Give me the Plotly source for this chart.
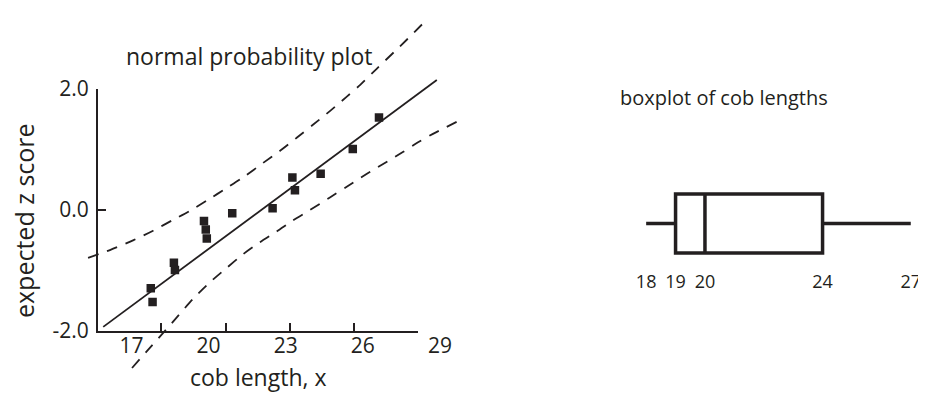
import plotly.graph_objects as go

# ---------------- data ----------------
cob_length = [17.75, 17.82, 18.65, 18.69, 19.82, 19.89, 19.93, 20.92,
              22.49, 23.26, 23.36, 24.36, 25.61, 26.63]
z_score = [-1.30, -1.53, -0.88, -1.00, -0.19, -0.33, -0.48, -0.06,
           0.02, 0.53, 0.32, 0.59, 1.00, 1.52]

fit_x = [15.90, 28.88]
fit_z = [-1.94, 2.14]

upper_x = [15.31, 16.16, 17.06, 17.84, 18.58, 19.28, 19.94, 20.72, 21.34, 22.12,
           22.78, 23.44, 24.06, 24.73, 25.39, 25.90, 26.55, 27.72, 28.54]
upper_z = [-0.80, -0.67, -0.51, -0.35, -0.18, -0.02, 0.15, 0.36, 0.53, 0.77,
           0.97, 1.19, 1.40, 1.63, 1.87, 2.06, 2.33, 2.81, 3.16]

lower_x = [17.02, 17.60, 18.19, 18.77, 19.39, 20.06, 20.72, 21.34, 22.00, 22.66,
           23.28, 23.94, 24.72, 25.39, 26.16, 26.94, 27.56, 28.15, 28.73, 29.90]
lower_z = [-2.62, -2.34, -2.06, -1.78, -1.48, -1.20, -0.96, -0.74, -0.54, -0.36,
           -0.18, -0.01, 0.20, 0.38, 0.59, 0.79, 0.95, 1.11, 1.25, 1.50]

x_tick_vals = [17, 20, 23, 26, 29]
x_tick_text = ["17", "20", "23", "26", "29"]
y_tick_vals = [-2, 0, 2]
y_tick_text = ["-2.0", "0.0", "2.0"]

box_stats = [18, 19, 20, 24, 27]   # min, Q1, median, Q3, max
box_tick_text = ["18", "19", "20", "24", "27"]

# ---------------- layout geometry (page pixels) ----------------
PAGE_W, PAGE_H = 926, 393
OFF = 8                       # default body margin of the html page
W, H = PAGE_W - OFF, PAGE_H - OFF
PX17, PXU = 131.5, 25.7      # pixel of x=17, pixels per unit
PY0, PYU = 209.5, 60.5       # pixel of z=0, pixels per unit
TICK_MARK_PX = [161, 226, 290, 354, 418]
BX_P, BX_V, BX_U = 752, 21.6, 29.4


def x_of(p):
    return 17 + (p - PX17) / PXU


def z_of(p):
    return (PY0 - p) / PYU


def bx_of(p):
    return BX_V + (p - BX_P) / BX_U


def fx(p):
    return (p - OFF) / W


def fy(p):
    return 1 - (p - OFF) / H


INK = "#231f20"
FONT = "Open Sans"

fig = go.Figure()

dash_line = dict(color=INK, width=1.8, dash="11px,9px", shape="spline",
                 smoothing=0.8)
fig.add_trace(go.Scatter(x=upper_x, y=upper_z, mode="lines", line=dash_line,
                         xaxis="x2", yaxis="y2", hoverinfo="skip"))
fig.add_trace(go.Scatter(x=lower_x, y=lower_z, mode="lines", line=dash_line,
                         xaxis="x2", yaxis="y2", hoverinfo="skip"))
fig.add_trace(go.Scatter(x=fit_x, y=fit_z, mode="lines",
                         line=dict(color=INK, width=1.8),
                         xaxis="x2", yaxis="y2", hoverinfo="skip"))
fig.add_trace(go.Scatter(x=cob_length, y=z_score, mode="markers",
                         marker=dict(symbol="square", size=8.5, color=INK),
                         xaxis="x", yaxis="y"))
# invisible trace to register the label-only axis
fig.add_trace(go.Scatter(x=[x_tick_vals[0]], y=[0], mode="markers",
                         marker=dict(opacity=0), xaxis="x3", yaxis="y",
                         hoverinfo="skip"))

box_w = 2 * 59 / 91
fig.add_trace(go.Box(y=[0], q1=[box_stats[1]], median=[box_stats[2]],
                     q3=[box_stats[3]], lowerfence=[box_stats[0]],
                     upperfence=[box_stats[4]], orientation="h",
                     width=box_w, whiskerwidth=0, boxpoints=False,
                     line=dict(color=INK, width=3.5), fillcolor="white",
                     xaxis="x4", yaxis="y4", hoverinfo="skip"))

axis_common = dict(showgrid=False, zeroline=False)

fig.update_layout(
    width=W, height=H,
    margin=dict(l=0, r=0, t=0, b=0, autoexpand=False),
    paper_bgcolor="white", plot_bgcolor="rgba(0,0,0,0)",
    showlegend=False,
    font=dict(family=FONT, color=INK),
    xaxis=dict(domain=[fx(98), fx(418)], range=[x_of(98), x_of(418)],
               anchor="y", showline=True, linewidth=2, linecolor=INK,
               ticks="inside", ticklen=8, tickwidth=2, tickcolor=INK,
               tickvals=[x_of(p) for p in TICK_MARK_PX],
               showticklabels=False, **axis_common),
    xaxis3=dict(domain=[fx(98), fx(470)], range=[x_of(98), x_of(470)],
                anchor="free", position=fy(330.5), side="bottom",
                showline=False, ticks="",
                tickvals=x_tick_vals, ticktext=x_tick_text,
                tickfont=dict(size=21, family=FONT, color=INK), **axis_common),
    yaxis=dict(domain=[fy(330.5), fy(88.5)], range=[-2, 2], anchor="x",
               showline=True, linewidth=2, linecolor=INK,
               ticks="inside", ticklen=8, tickwidth=2, tickcolor=INK,
               tickvals=y_tick_vals, ticktext=y_tick_text, ticklabelstandoff=3,
               tickfont=dict(size=21, family=FONT, color=INK), **axis_common),
    xaxis2=dict(domain=[0, fx(480)], range=[x_of(OFF), x_of(480)],
                anchor="y2", visible=False, **axis_common),
    yaxis2=dict(domain=[0, 1], range=[z_of(PAGE_H), z_of(OFF)],
                anchor="x2", visible=False, **axis_common),
    xaxis4=dict(domain=[fx(600), 1], range=[bx_of(600), bx_of(PAGE_W)],
                anchor="y4", showline=False, ticks="",
                tickvals=box_stats, ticktext=box_tick_text,
                tickfont=dict(size=18, family=FONT, color=INK), **axis_common),
    yaxis4=dict(domain=[fy(269), fy(178)], range=[-1, 1], anchor="x4",
                visible=False, **axis_common),
)

ann_font = dict(family=FONT, color=INK)
fig.add_annotation(text="normal probability plot", x=fx(249), y=fy(56),
                   xref="paper", yref="paper", showarrow=False,
                   xanchor="center", yanchor="middle",
                   font=dict(size=23, **ann_font))
fig.add_annotation(text="expected z score", x=fx(24), y=fy(221),
                   xref="paper", yref="paper", showarrow=False, textangle=-90,
                   xanchor="center", yanchor="middle",
                   font=dict(size=25, **ann_font))
fig.add_annotation(text="cob length, x", x=fx(258), y=fy(377),
                   xref="paper", yref="paper", showarrow=False,
                   xanchor="center", yanchor="middle",
                   font=dict(size=23, **ann_font))
fig.add_annotation(text="boxplot of cob lengths", x=fx(724), y=fy(98),
                   xref="paper", yref="paper", showarrow=False,
                   xanchor="center", yanchor="middle",
                   font=dict(size=20, **ann_font))

fig.write_html("out.html")
